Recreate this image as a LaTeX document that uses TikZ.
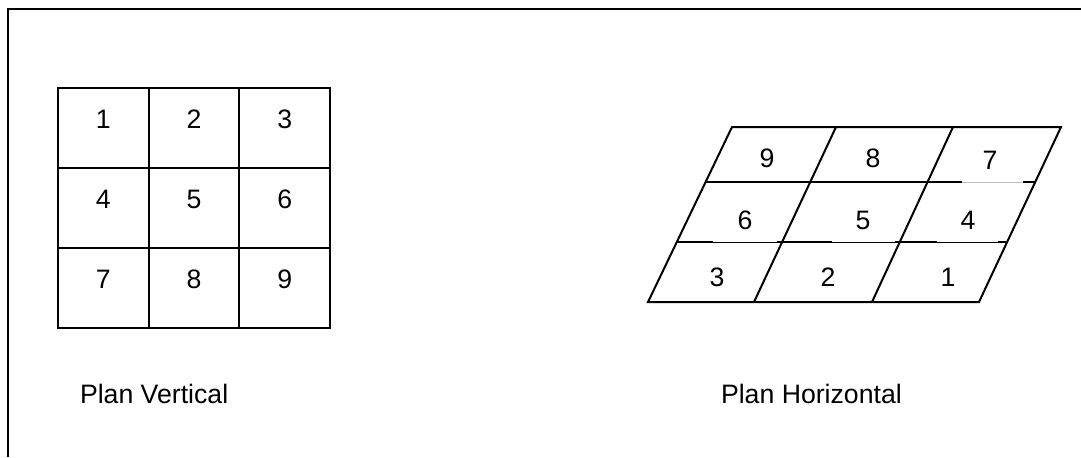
\documentclass[tikz,border=0pt]{standalone}
\usepackage{fontspec}
\setmainfont{Liberation Sans}
\usetikzlibrary{positioning}

\begin{document}
\begin{tikzpicture}[x=0.75pt, y=-0.75pt, line width=1.5pt,
    num/.style={font=\fontsize{20}{24}\selectfont},
    caption/.style={font=\fontsize{20}{24}\selectfont, inner sep=0pt, anchor=base west},
    faint/.style={line width=0.6pt}]
    \useasboundingbox (0,0) rectangle (1081,457);
    % frame
    \draw (8,457) -- (8,9) -- (1081,9);
    % vertical plan: 3x3 squares
    \foreach \r in {0,1,2}
      \foreach \c in {0,1,2} {
        \pgfmathtruncatemacro{\n}{3*\r+\c+1}
        \draw (58+90.7*\c, 88+80*\r) rectangle ++(90.7,80);
        \node[num] (v\n) at (103.3+90.7*\c, 119+80*\r) {\n};
      }
    % horizontal plan: slanted grid
    \draw (648,302) -- (732,127) -- (1061,127) -- (979,302) -- cycle;
    \draw (836,127) -- (754,302);
    \draw (953,127) -- (872,302);
    \draw[faint, black!25] (705.6,182) -- (1034.6,182);
    \draw (705.6,182) -- (962,182) (1023,182) -- (1034.6,182);
    \draw[faint] (676.8,242) -- (1005.8,242);
    \draw (676.8,242) -- (713,242) (777,242) -- (832,242)
          (895,242) -- (937,242) (998,242) -- (1005.8,242);
    \node[num] (h9) at (767,158) {9};
    \node[num] (h8) at (873,158) {8};
    \node[num] (h7) at (990,160) {7};
    \node[num] (h6) at (745,220) {6};
    \node[num] (h5) at (863,220) {5};
    \node[num] (h4) at (968,220) {4};
    \node[num] (h3) at (717,277) {3};
    \node[num] (h2) at (828,277) {2};
    \node[num] (h1) at (948,277) {1};
    % captions
    \node[caption] (vlabel) at (79,403) {Plan Vertical};
    \node[caption] (hlabel) at (720,403) {Plan Horizontal};
\end{tikzpicture}
\end{document}
